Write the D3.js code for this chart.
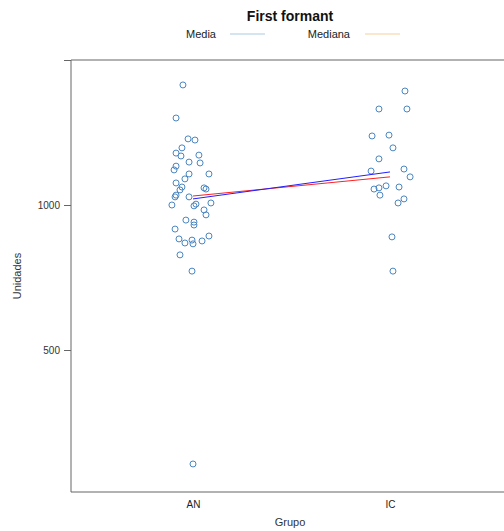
<!DOCTYPE html>
<html>
<head>
<meta charset="utf-8">
<script src="https://cdn.jsdelivr.net/npm/d3@7"></script>
<style>
  body { margin: 0; background: #fff; }
  svg { display: block; font-family: "Liberation Sans", Arial, sans-serif; }
</style>
</head>
<body>
<div id="chart"></div>
<script>
// groups on the x axis
var groups = ["AN", "IC"];

// first formant values, per group
var valuesAN = [1414, 1300, 1228, 1224, 1197, 1179, 1169, 1172, 1148, 1134, 1145, 1121, 1090, 1107,
  1107, 1076, 1062, 1052, 1059, 1055, 1028, 1034, 1028, 1000, 997, 1003, 1007, 983, 966, 948,
  941, 931, 917, 883, 869, 879, 866, 876, 893, 828, 772, 107];
var valuesIC = [1393, 1331, 1331, 1238, 1241, 1197, 1159, 1117, 1124, 1097, 1055, 1059, 1066,
  1034, 1062, 1021, 1007, 890, 772];

// horizontal jitter of each point, in group units (as seen in the picture)
var jitterAN = [-0.051, -0.086, -0.025, 0.010, -0.056, -0.086, -0.061, 0.030, -0.020, -0.086, 0.036,
  -0.096, -0.041, -0.020, 0.081, -0.086, -0.056, -0.066, 0.056, 0.066, -0.020, -0.086, -0.091,
  -0.107, 0.005, 0.015, 0.091, 0.056, 0.066, -0.036, 0.005, 0.005, -0.091, -0.071, -0.041,
  -0.005, 0, 0.046, 0.081, -0.066, -0.005, 0];
var jitterIC = [0.076, -0.056, 0.086, -0.091, -0.005, 0.015, -0.056, -0.096, 0.071, 0.102, -0.081,
  -0.056, -0.020, -0.051, 0.046, 0.071, 0.041, 0.010, 0.015];

// group summaries
var means = [1021, 1114];
var medians = [1031, 1097];

var yTicks = [500, 1000, 1500];
var yTickLabels = ["500", "1000", ""]; // top tick has no label in the original

var width = 504, height = 531;

var svg = d3.select("#chart").append("svg")
    .attr("width", width)
    .attr("height", height);

// scales: group index -> px, value -> px
var x = d3.scaleLinear().domain([0, 1]).range([193, 390]);
var y = d3.scaleLinear().domain([500, 1000]).range([350, 205]);

var plotLeft = 71, plotRight = 505;
var plotTop = y(1500), plotBottom = y(10);

// frame
svg.append("line")
    .attr("x1", plotLeft).attr("x2", plotRight)
    .attr("y1", plotTop).attr("y2", plotTop)
    .attr("stroke", "#999").attr("stroke-width", 1.5);
svg.append("line")
    .attr("x1", plotLeft).attr("x2", plotRight)
    .attr("y1", plotBottom).attr("y2", plotBottom)
    .attr("stroke", "#999").attr("stroke-width", 1.5);
svg.append("line")
    .attr("x1", plotLeft).attr("x2", plotLeft)
    .attr("y1", plotTop).attr("y2", plotBottom)
    .attr("stroke", "#666").attr("stroke-width", 1);

// y axis
var yAxis = d3.axisLeft(y)
    .tickValues(yTicks)
    .tickSize(7)
    .tickPadding(4)
    .tickFormat(function(d, i) { return yTickLabels[i]; });
var gy = svg.append("g")
    .attr("transform", "translate(" + plotLeft + ",0)")
    .call(yAxis);
gy.select(".domain").remove();
gy.selectAll(".tick line").attr("stroke", "#666");
gy.selectAll(".tick text")
    .filter(function() { return this.textContent === ""; })
    .remove();
gy.selectAll(".tick text")
    .attr("fill", "#333")
    .style("font-size", "10px");

// x axis labels (no ticks)
var xAxis = d3.axisBottom(x)
    .tickValues([0, 1])
    .tickSize(0)
    .tickPadding(9)
    .tickFormat(function(d) { return groups[d]; });
var gx = svg.append("g")
    .attr("transform", "translate(0," + plotBottom + ")")
    .call(xAxis);
gx.select(".domain").remove();
gx.selectAll(".tick text")
    .attr("fill", "#222")
    .style("font-size", "10px");

// points
var pts = [];
valuesAN.forEach(function(v, i) { pts.push({g: 0, v: v, j: jitterAN[i]}); });
valuesIC.forEach(function(v, i) { pts.push({g: 1, v: v, j: jitterIC[i]}); });

svg.append("g").selectAll("circle")
    .data(pts)
    .enter()
    .append("circle")
      .attr("cx", function(d) { return x(d.g + d.j); })
      .attr("cy", function(d) { return y(d.v); })
      .attr("r", 3)
      .attr("fill", "none")
      .attr("stroke", "#4a86c0")
      .attr("stroke-width", 1);

// mean and median lines
var line = d3.line()
    .x(function(d, i) { return x(i); })
    .y(function(d) { return y(d); });

svg.append("path")
    .datum(medians)
    .attr("d", line)
    .attr("fill", "none")
    .attr("stroke", "#ff2020")
    .attr("stroke-width", 1);
svg.append("path")
    .datum(means)
    .attr("d", line)
    .attr("fill", "none")
    .attr("stroke", "#2020ff")
    .attr("stroke-width", 1);

// titles
svg.append("text")
    .attr("x", 290).attr("y", 21)
    .attr("text-anchor", "middle")
    .style("font-size", "14px")
    .style("font-weight", "bold")
    .attr("fill", "#111")
    .text("First formant");

svg.append("text")
    .attr("transform", "translate(21," + ((plotTop + plotBottom) / 2) + ") rotate(-90)")
    .attr("text-anchor", "middle")
    .style("font-size", "11px")
    .attr("fill", "#333")
    .text("Unidades");

svg.append("text")
    .attr("x", 290).attr("y", 526)
    .attr("text-anchor", "middle")
    .style("font-size", "11px")
    .attr("fill", "#333")
    .text("Grupo");

// legend
var legend = [
  {label: "Media", color: "#a9c9e2", tx: 216, lx: 230},
  {label: "Mediana", color: "#f3d29c", tx: 350, lx: 365}
];
var lg = svg.append("g").selectAll("g")
    .data(legend)
    .enter()
    .append("g");
lg.append("text")
    .attr("x", function(d) { return d.tx; })
    .attr("y", 38)
    .attr("text-anchor", "end")
    .style("font-size", "11px")
    .attr("fill", "#222")
    .text(function(d) { return d.label; });
lg.append("line")
    .attr("x1", function(d) { return d.lx; })
    .attr("x2", function(d) { return d.lx + 35; })
    .attr("y1", 34).attr("y2", 34)
    .attr("stroke", function(d) { return d.color; })
    .attr("stroke-width", 1.2);
</script>
</body>
</html>
